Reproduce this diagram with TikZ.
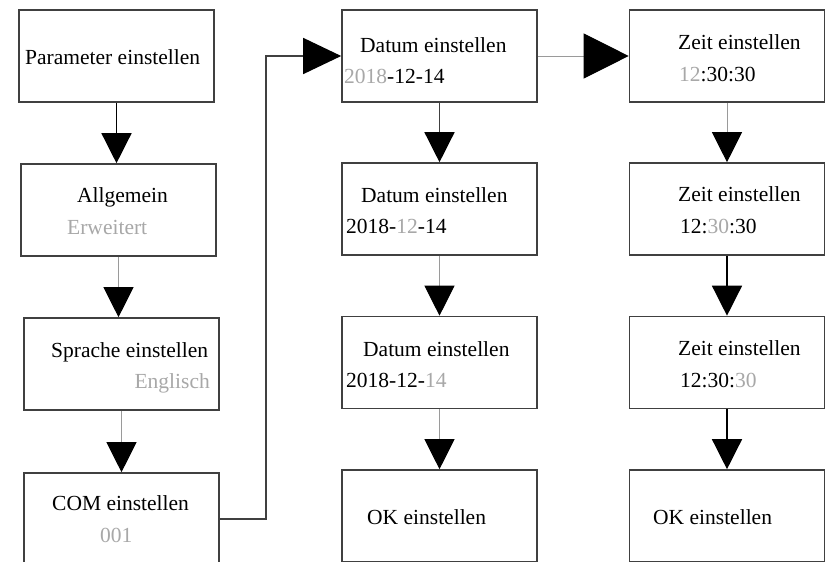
\documentclass[tikz,border=0pt]{standalone}
\usepackage{fontspec}
\setmainfont{Liberation Serif}
\usepackage{xcolor}
\usepackage{tikz}
\usetikzlibrary{arrows.meta}
\definecolor{MenuFrame}{HTML}{404040}
\definecolor{MenuLine}{HTML}{9A9A9A}
\definecolor{MenuDim}{HTML}{A8A8A8}
\newcommand{\dimtxt}[1]{\textcolor{MenuDim}{#1}}

\begin{document}
\begin{tikzpicture}[
  x=1pt, y=-1pt,
  every node/.style={font=\fontsize{21.5pt}{26pt}\selectfont, inner sep=0pt},
  menubox/.style={draw=MenuFrame, line width=1.6pt, minimum width=195pt, minimum height=92pt},
  darkflow/.style={draw=black, line width=1.4pt, -{Triangle[width=30pt,length=30pt,black]}},
  paleflow/.style={draw=MenuLine, line width=1pt, -{Triangle[width=30pt,length=30pt,black]}},
]
\clip (0,0) rectangle (828,562);
\fill[white] (0,0) rectangle (828,562);

% ============ column 1: menu ============
\node[menubox] (par) at (116.5,56) {};
\node[anchor=base west] (partxt) at (25,64) {Parameter einstellen};

\node[menubox] (allg) at (118.5,210) {};
\node[anchor=base west] (allgtxt) at (77,202) {Allgemein};
\node[anchor=base west, text=MenuDim] (allgsub) at (67,234) {Erweitert};

\node[menubox] (spr) at (121.5,364) {};
\node[anchor=base west] (sprtxt) at (51,357) {Sprache einstellen};
\node[anchor=base east, text=MenuDim] (sprsub) at (210,388) {Englisch};

\node[menubox] (com) at (121.5,519) {};
\node[anchor=base west] (comtxt) at (52,510) {COM einstellen};
\node[anchor=base west, text=MenuDim] (comsub) at (100,542) {001};

\draw[darkflow] (par.south) -- (par.south |- allg.north);
\draw[paleflow] (allg.south) -- (allg.south |- spr.north);
\draw[paleflow] (spr.south) -- (spr.south |- com.north);

% ============ column 2: date ============
\node[menubox] (dat1) at (439.5,56) {};
\node[anchor=base west] (dat1txt) at (360,52) {Datum einstellen};
\node[anchor=base west] (dat1val) at (344,83) {\dimtxt{2018}-12-14};

\node[menubox] (dat2) at (439.5,209) {};
\node[anchor=base west] (dat2txt) at (361,202) {Datum einstellen};
\node[anchor=base west] (dat2val) at (346,233) {2018-\dimtxt{12}-14};

\node[menubox] (dat3) at (439.5,362.5) {};
\node[anchor=base west] (dat3txt) at (363,356) {Datum einstellen};
\node[anchor=base west] (dat3val) at (346,387) {2018-12-\dimtxt{14}};

\node[menubox] (datok) at (439.5,516) {};
\node[anchor=base west] (datoktxt) at (367,524) {OK einstellen};

\draw[darkflow, draw=MenuFrame] (dat1.south) -- (dat2.north);
\draw[paleflow] (dat2.south) -- (dat3.north);
\draw[paleflow] (dat3.south) -- (datok.north);

% ============ column 3: time ============
\node[menubox] (zt1) at (727,56) {};
\node[anchor=base west] (zt1txt) at (678,49) {Zeit einstellen};
\node[anchor=base west] (zt1val) at (679,81) {\dimtxt{12}:30:30};

\node[menubox] (zt2) at (727,209) {};
\node[anchor=base west] (zt2txt) at (678,201) {Zeit einstellen};
\node[anchor=base west] (zt2val) at (680,233) {12:\dimtxt{30}:30};

\node[menubox] (zt3) at (727,362.5) {};
\node[anchor=base west] (zt3txt) at (678,355) {Zeit einstellen};
\node[anchor=base west] (zt3val) at (680,387) {12:30:\dimtxt{30}};

\node[menubox] (ztok) at (727,516) {};
\node[anchor=base west] (ztoktxt) at (653,524) {OK einstellen};

\draw[paleflow] (zt1.south) -- (zt2.north);
\draw[darkflow] (zt2.south) -- (zt3.north);
\draw[darkflow] (zt3.south) -- (ztok.north);

% ============ links between columns ============
\coordinate (turn) at (266,300);
\draw[darkflow, draw=MenuFrame, -{Triangle[width=36pt,length=38pt,black]}]
  (com.east) -| (turn) |- (dat1.west);
\draw[paleflow, -{Triangle[width=45pt,length=45pt,black]}]
  (dat1.east) -- (zt1.west);

\end{tikzpicture}
\end{document}
